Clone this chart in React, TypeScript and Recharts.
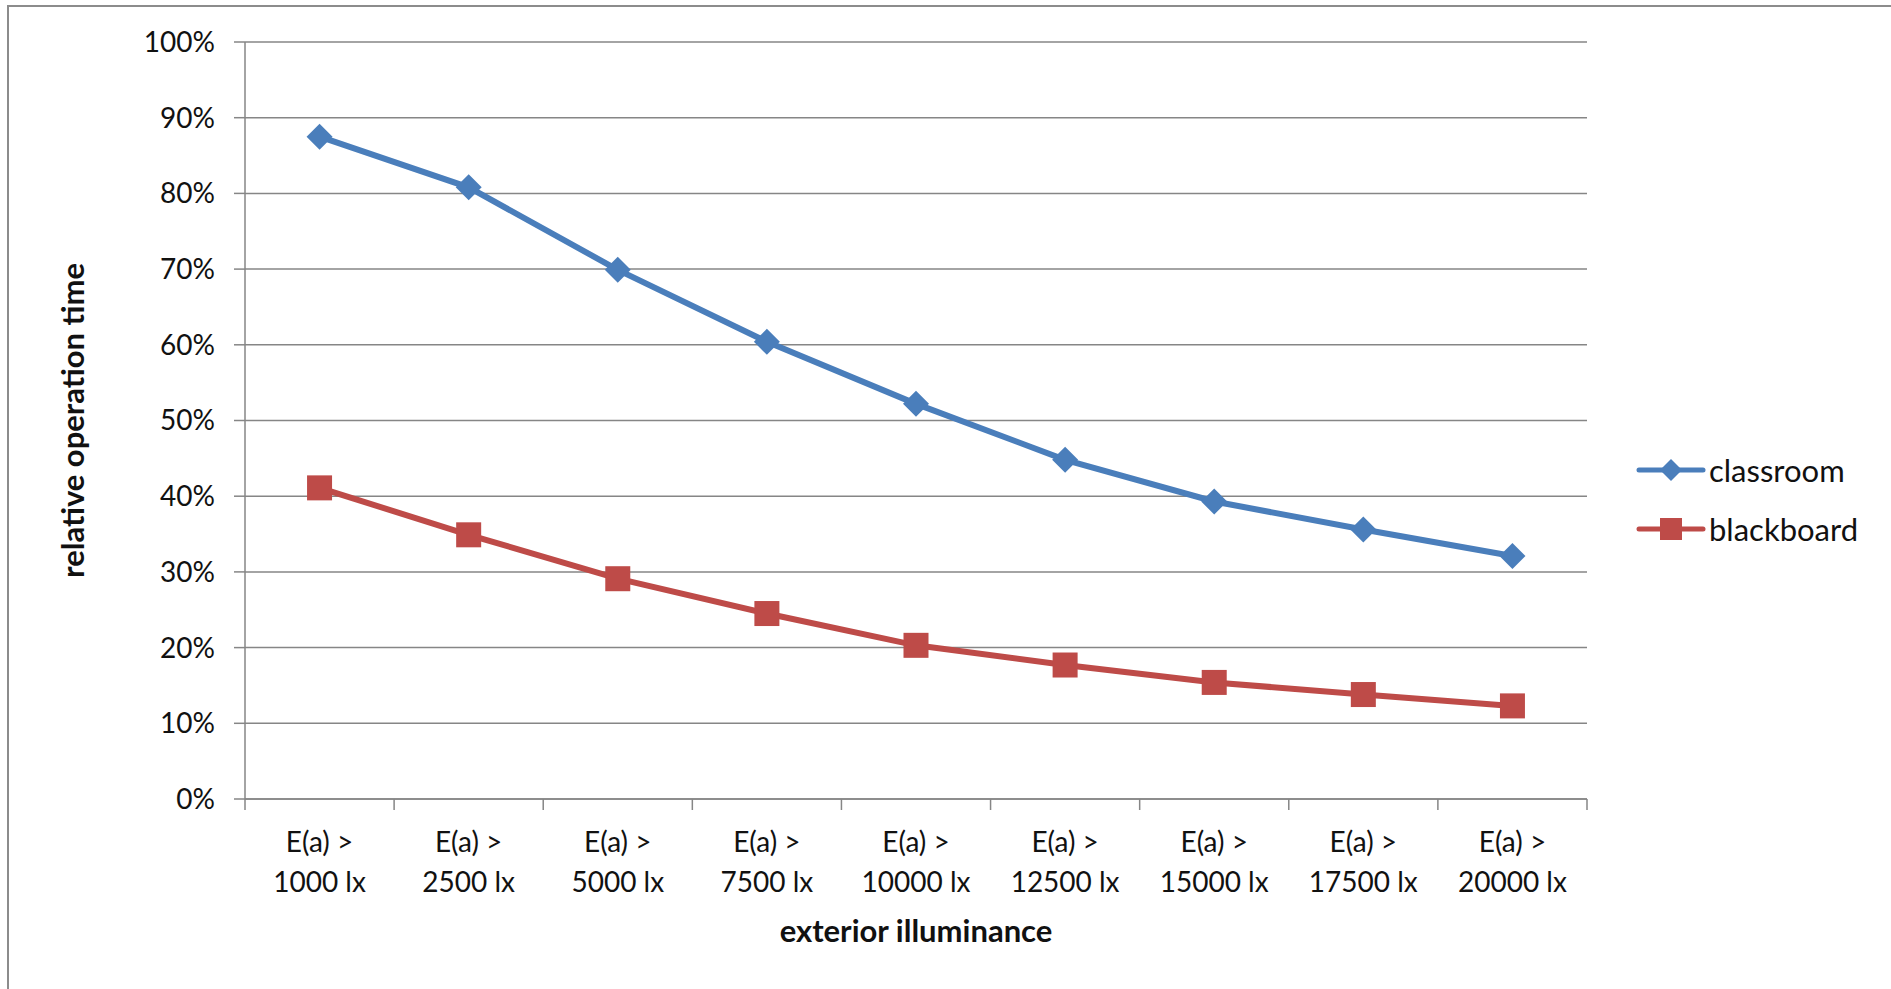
import React from 'react';
import {
  LineChart,
  Line,
  XAxis,
  YAxis,
  CartesianGrid,
  Legend,
  Label,
} from 'recharts';

const categories = [
  'E(a) > 1000 lx',
  'E(a) > 2500 lx',
  'E(a) > 5000 lx',
  'E(a) > 7500 lx',
  'E(a) > 10000 lx',
  'E(a) > 12500 lx',
  'E(a) > 15000 lx',
  'E(a) > 17500 lx',
  'E(a) > 20000 lx',
];
const classroom = [87.5, 80.8, 69.9, 60.4, 52.2, 44.8, 39.3, 35.6, 32.1];
const blackboard = [41.1, 34.9, 29.1, 24.5, 20.3, 17.7, 15.4, 13.8, 12.3];
const yTicks = [0, 10, 20, 30, 40, 50, 60, 70, 80, 90, 100];

const BLUE = '#4a7ebb';
const RED = '#be4b48';
const GRID = '#868686';
const FONT = 'Lato, "Open Sans", sans-serif';

const W = 1891;
const H = 989;
const MARGIN = { top: 42, right: 304, bottom: 40, left: 0 };
const Y_AXIS_W = 245;
const PLOT_W = W - MARGIN.left - MARGIN.right - Y_AXIS_W;
const BAND = PLOT_W / categories.length;

const data = categories.map((name, i) => ({
  name,
  classroom: classroom[i],
  blackboard: blackboard[i],
}));

const Diamond = (props: any) => {
  const { cx, cy, fill, half = 13 } = props;
  if (cx == null || cy == null) return null;
  return (
    <polygon
      points={`${cx},${cy - half} ${cx + half},${cy} ${cx},${cy + half} ${cx - half},${cy}`}
      fill={fill}
    />
  );
};

const Square = (props: any) => {
  const { cx, cy, fill, half = 12.5 } = props;
  if (cx == null || cy == null) return null;
  return <rect x={cx - half} y={cy - half} width={half * 2} height={half * 2} fill={fill} />;
};

// two-line category label, with tick marks on the category boundaries
const CategoryTick = (props: any) => {
  const { x, y, payload, index } = props;
  const [first, second] = String(payload.value).split('> ');
  const last = index === categories.length - 1;
  return (
    <g>
      <line x1={x - BAND / 2} x2={x - BAND / 2} y1={y} y2={y + 11} stroke={GRID} strokeWidth={1.5} />
      {last && (
        <line x1={x + BAND / 2} x2={x + BAND / 2} y1={y} y2={y + 11} stroke={GRID} strokeWidth={1.5} />
      )}
      <text x={x} y={y + 53} textAnchor="middle" fontFamily={FONT} fontSize={28} fill="#111">
        {first + '>'}
      </text>
      <text x={x} y={y + 93} textAnchor="middle" fontFamily={FONT} fontSize={28} fill="#111">
        {second}
      </text>
    </g>
  );
};

const LegendBox = () => {
  const rows = [
    { name: 'classroom', color: BLUE, shape: 'diamond' },
    { name: 'blackboard', color: RED, shape: 'square' },
  ];
  return (
    <div style={{ fontFamily: FONT, fontSize: 31, color: '#111' }}>
      {rows.map((r) => (
        <div key={r.name} style={{ display: 'flex', alignItems: 'center', height: 59 }}>
          <svg width={70} height={26}>
            <line x1={3} x2={67} y1={13} y2={13} stroke={r.color} strokeWidth={5} strokeLinecap="round" />
            {r.shape === 'diamond' ? (
              <Diamond cx={35} cy={13} fill={r.color} half={11} />
            ) : (
              <Square cx={35} cy={13} fill={r.color} half={11} />
            )}
          </svg>
          <span style={{ marginLeft: 3 }}>{r.name}</span>
        </div>
      ))}
    </div>
  );
};

export default function App() {
  return (
    <div
      style={{
        position: 'absolute',
        left: 0,
        top: 0,
        width: W,
        height: H,
        overflow: 'hidden',
        background: '#fff',
      }}
    >
      <div
        style={{
          position: 'absolute',
          left: 7,
          top: 5,
          width: W,
          height: H,
          borderTop: '2px solid #8c8c8c',
          borderLeft: '2px solid #8c8c8c',
        }}
      />
      <LineChart width={W} height={H} data={data} margin={MARGIN}>
        <CartesianGrid vertical={false} stroke={GRID} strokeWidth={1.5} />
        <XAxis
          dataKey="name"
          height={150}
          padding={{ left: BAND / 2, right: BAND / 2 }}
          interval={0}
          tickLine={false}
          tickSize={0}
          tickMargin={0}
          axisLine={{ stroke: GRID, strokeWidth: 1.5 }}
          tick={<CategoryTick />}
        >
          <Label
            content={(p: any) => {
              const vb = p.viewBox;
              return (
                <text
                  x={vb.x + vb.width / 2}
                  y={vb.y + 143}
                  textAnchor="middle"
                  fontFamily={FONT}
                  fontWeight="bold"
                  fontSize={31}
                  fill="#111"
                >
                  exterior illuminance
                </text>
              );
            }}
          />
        </XAxis>
        <YAxis
          width={Y_AXIS_W}
          domain={[0, 100]}
          ticks={yTicks}
          interval={0}
          tickFormatter={(v: number) => `${v}%`}
          tickSize={11}
          tickMargin={19}
          tickLine={{ stroke: GRID, strokeWidth: 1.5 }}
          axisLine={{ stroke: GRID, strokeWidth: 1.5 }}
          tick={{ fontFamily: FONT, fontSize: 28, fill: '#111' }}
        >
          <Label
            content={(p: any) => {
              const vb = p.viewBox;
              const cy = vb.y + vb.height / 2;
              return (
                <text
                  x={72}
                  y={cy}
                  transform={`rotate(-90, 72, ${cy})`}
                  textAnchor="middle"
                  dominantBaseline="central"
                  fontFamily={FONT}
                  fontWeight="bold"
                  fontSize={31}
                  fill="#111"
                >
                  relative operation time
                </text>
              );
            }}
          />
        </YAxis>
        <Legend
          layout="horizontal"
          verticalAlign="middle"
          content={<LegendBox />}
          wrapperStyle={{ position: 'absolute', left: 1636, top: 440, width: 250 }}
        />
        <Line
          dataKey="classroom"
          name="classroom"
          stroke={BLUE}
          strokeWidth={6}
          dot={<Diamond fill={BLUE} />}
          activeDot={false}
          isAnimationActive={false}
        />
        <Line
          dataKey="blackboard"
          name="blackboard"
          stroke={RED}
          strokeWidth={6}
          dot={<Square fill={RED} />}
          activeDot={false}
          isAnimationActive={false}
        />
      </LineChart>
    </div>
  );
}
